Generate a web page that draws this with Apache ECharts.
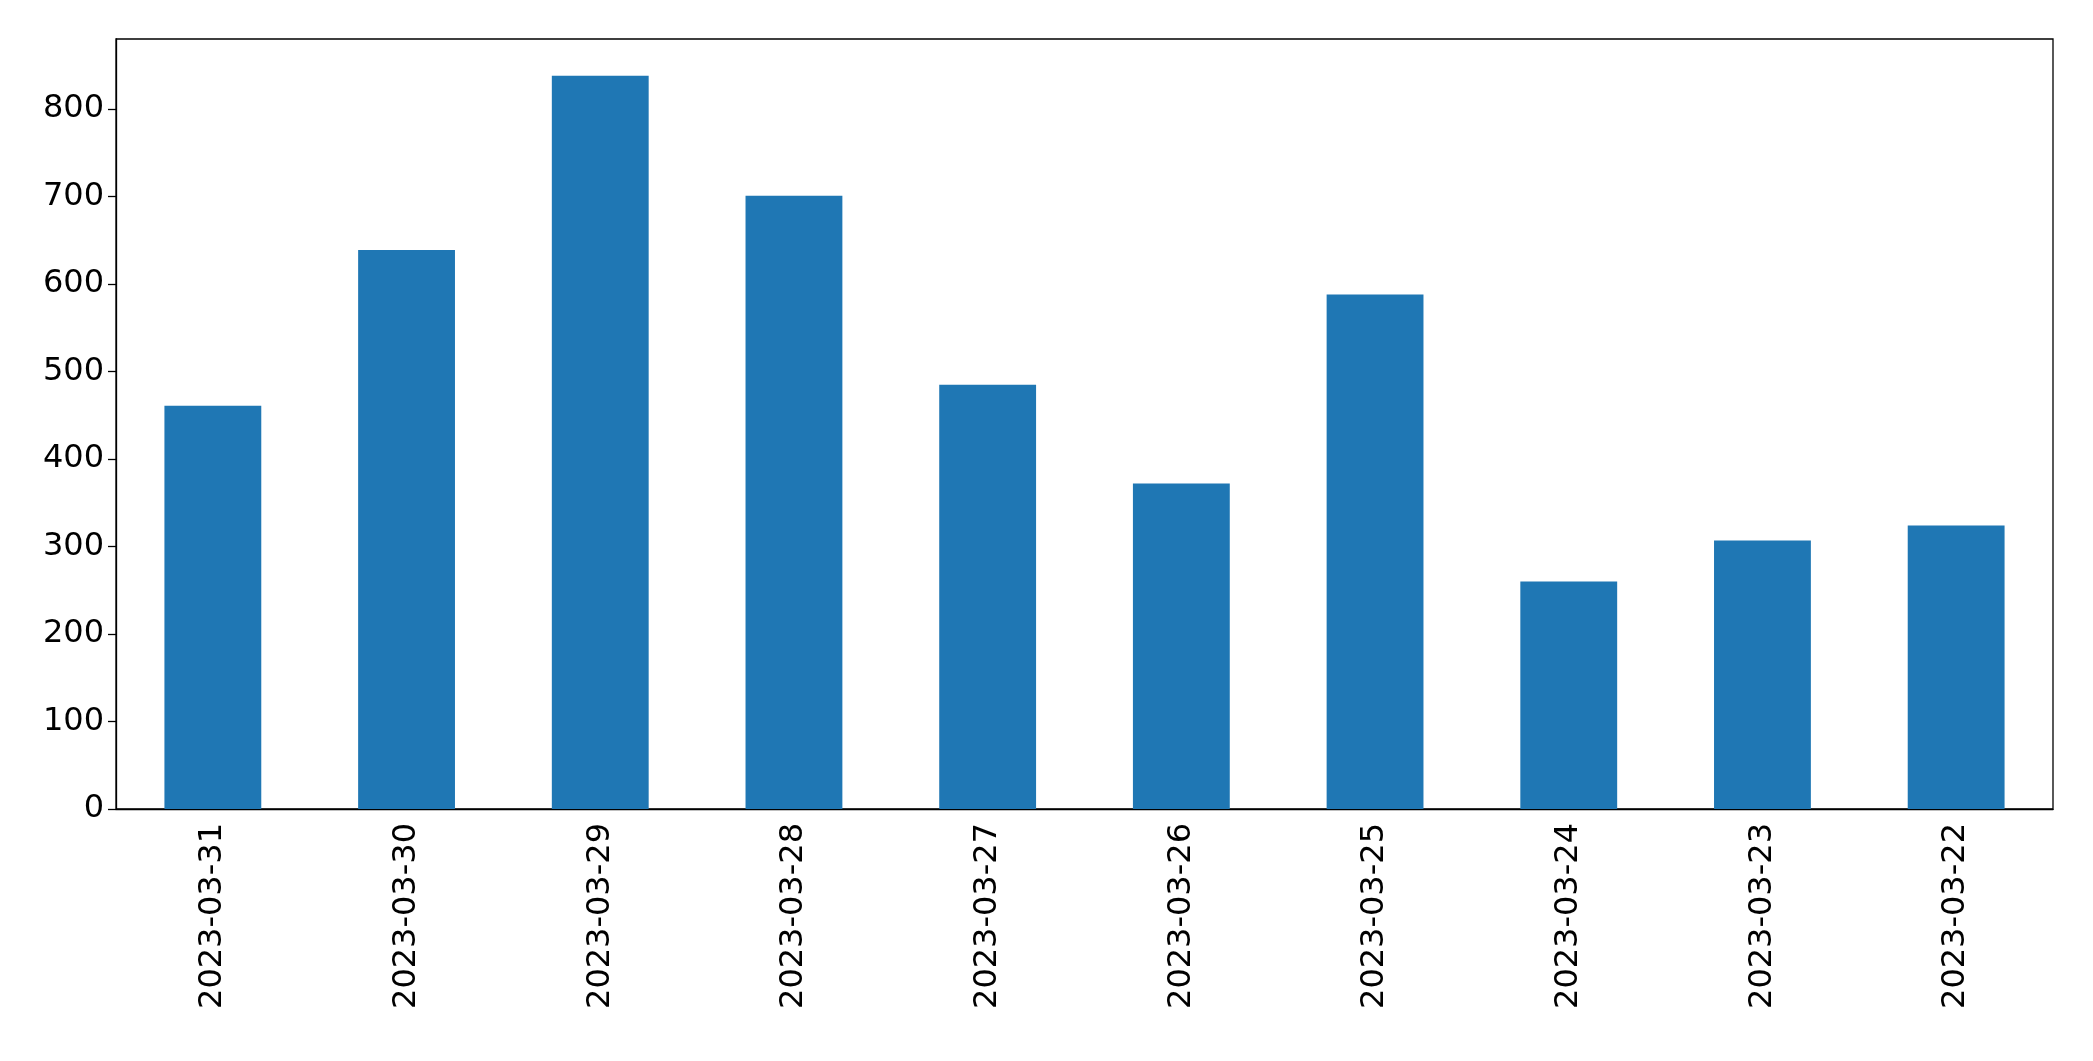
<!DOCTYPE html>
<html><head><meta charset="utf-8">
<script src="https://cdn.jsdelivr.net/npm/echarts@6/dist/echarts.min.js"></script>
<style>html,body{margin:0;padding:0;background:#fff}#c{width:2093px;height:1061px}</style>
</head><body><div id="c"></div>
<script>
const categories = ['2023-03-31','2023-03-30','2023-03-29','2023-03-28','2023-03-27','2023-03-26','2023-03-25','2023-03-24','2023-03-23','2023-03-22'];
const values = [461, 639, 838, 701, 485, 372, 588, 260, 307, 324];
const chart = echarts.init(document.getElementById('c'));
chart.setOption({
  animation: false,
  grid: {left: 116, right: 40, top: 39, bottom: 252, show: true, borderColor: '#000', borderWidth: 1.3},
  xAxis: {
    type: 'category', data: categories,
    axisLine: {lineStyle: {color: '#000', width: 1.3}},
    axisTick: {alignWithLabel: true, length: 8, lineStyle: {color: '#000', width: 1.3}},
    axisLabel: {rotate: 90, color: '#000', fontSize: 32, fontFamily: 'DejaVu Sans', margin: 14}
  },
  yAxis: {
    type: 'value', min: 0, max: 880, interval: 100,
    splitLine: {show: false},
    axisLine: {show: true, lineStyle: {color: '#000', width: 1.3}},
    axisTick: {show: true, length: 8, lineStyle: {color: '#000', width: 1.3}},
    axisLabel: {color: '#000', fontSize: 32, fontFamily: 'DejaVu Sans', margin: 12, showMaxLabel: false,
      formatter: v => (v % 100 === 0 ? String(v) : '')}
  },
  series: [{type: 'bar', data: values, barWidth: '50%', itemStyle: {color: '#1f77b4'}}]
});
</script></body></html>
